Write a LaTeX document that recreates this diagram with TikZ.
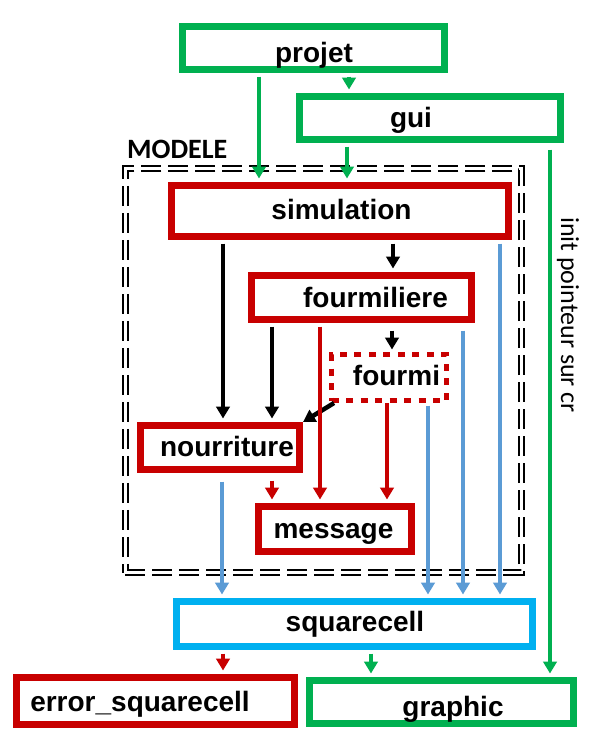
\documentclass[tikz,border=0pt]{standalone}
\usepackage{fontspec}
\newfontfamily\boxfont{Liberation Sans}
\newfontfamily\calfont{Carlito}
\usetikzlibrary{arrows.meta,calc}
\definecolor{cred}{RGB}{200,0,0}
\definecolor{cgreen}{RGB}{0,176,80}
\definecolor{cblue}{RGB}{91,155,213}
\definecolor{ccyan}{RGB}{0,176,240}
\newcommand{\bt}[3]{\raisebox{-#2pt}[0pt][0pt]{\makebox[0pt]{\kern#1pt\kern#1pt #3}}}
\begin{document}
\begin{tikzpicture}[x=1pt,y=-1pt,
  box/.style={draw, fill=white, line width=7pt, inner sep=0pt,
    font=\boxfont\bfseries\fontsize{28}{32}\selectfont},
  redbox/.style={box, draw=cred},
  greenbox/.style={box, draw=cgreen},
  cyanbox/.style={box, draw=ccyan},
  sz/.style 2 args={minimum width=#1pt, minimum height=#2pt},
  modbox/.style={draw=black, line width=2pt, double=white, double distance=3pt,
    dash pattern=on 20pt off 7pt, inner sep=0pt},
  tip/.style={-{Triangle[width=13.5pt,length=12pt]}},
  garr/.style={tip, draw=cgreen, line width=4.5pt, shorten <=3.5pt, shorten >=3.5pt},
  karr/.style={tip, draw=black, line width=4.5pt, shorten <=3.5pt, shorten >=3.5pt},
  barr/.style={tip, draw=cblue, line width=3.5pt, shorten <=3.5pt, shorten >=3.5pt},
  rarr/.style={tip, draw=cred, line width=4.5pt, shorten <=3.5pt, shorten >=3.5pt},
]
\useasboundingbox (0,0) rectangle (591,742);
\fill[white] (0,0) rectangle (591,742);

\node[modbox, sz={396.5}{404.3}] (modele) at (323.25,370.35) {};
\node[anchor=base west, inner sep=0pt, font=\calfont\bfseries\fontsize{28}{32}\selectfont] (modlabel) at (127,158) {MODELE};

\node[greenbox, sz={262}{43}] (projet) at (313.5,48) {\bt{0.5}{14}{projet}};
\node[greenbox, sz={261}{43}] (gui) at (430,118) {\bt{-19}{9}{gui}};
\node[redbox, sz={337}{51}] (simulation) at (340,211) {\bt{1.5}{8}{simulation}};
\node[redbox, sz={220}{44}] (fourmiliere) at (361.5,297.5) {\bt{14}{9.5}{fourmiliere}};
\node[redbox, line width=5pt, dash pattern=on 7pt off 7.5pt, sz={115}{46}] (fourmi) at (389,377.5) {\bt{7.5}{7.5}{fourmi}};
\node[redbox, sz={159}{44}] (nourriture) at (220,447.5) {\bt{7}{8.5}{nourriture}};
\node[redbox, sz={153}{45}] (message) at (335,529) {\bt{-1.5}{9}{message}};
\node[cyanbox, sz={356}{45}] (squarecell) at (354.5,624) {\bt{0.5}{7}{squarecell}};
\node[redbox, sz={278}{47}] (error) at (155.5,701) {\bt{-15.5}{10.5}{error\_squarecell}};
\node[greenbox, sz={264}{43}] (graphic) at (441.5,702) {\bt{11.5}{14}{graphic}};

\node[rotate=-90, anchor=base west, inner sep=0pt, font=\calfont\fontsize{26}{30}\selectfont] (initlbl) at (561,217) {init pointeur sur cr};

% green connectors
\draw[garr] ($(projet.south)+(-54.5,0)$) -- ($(projet.south |- simulation.north)+(-54.5,0)$);
\draw[garr] ($(projet.south)+(35.5,0)$) -- ($(projet.south |- gui.north)+(35.5,0)$);
\draw[garr] ($(gui.south)+(-83,0)$) -- ($(gui.south |- simulation.north)+(-83,0)$);
\draw[garr, shorten <=6.5pt] ($(gui.south)+(120,0)$) -- ($(gui.south |- graphic.north)+(120,0)$);
\draw[garr] ($(squarecell.south)+(16.5,0)$) -- ($(squarecell.south |- graphic.north)+(16.5,0)$);

% black connectors
\draw[karr] ($(simulation.south)+(-117,0)$) -- ($(simulation.south |- nourriture.north)+(-117,0)$);
\draw[karr] ($(simulation.south)+(53,0)$) -- ($(simulation.south |- fourmiliere.north)+(53,0)$);
\draw[karr] ($(fourmiliere.south)+(-89.5,0)$) -- ($(fourmiliere.south |- nourriture.north)+(-89.5,0)$);
\draw[karr, shorten <=7.5pt, shorten >=2.5pt] ($(fourmiliere.south)+(30.5,0)$) -- ($(fourmiliere.south |- fourmi.north)+(30.5,0)$);
\draw[karr, shorten <=0pt, shorten >=0pt] ($(fourmi.south west)+(5,0)$) -- (nourriture.north east);

% red connectors
\draw[rarr] ($(fourmiliere.south)+(-41.5,0)$) -- ($(fourmiliere.south |- message.north)+(-41.5,0)$);
\draw[rarr, shorten <=0pt] ($(fourmi.south)+(-2,0)$) -- ($(fourmi.south |- message.north)+(-2,0)$);
\draw[rarr, shorten <=7.5pt] ($(nourriture.south)+(52,0)$) -- ($(nourriture.south |- message.north)+(52,0)$);
\draw[rarr] ($(squarecell.south)+(-131.5,0)$) -- ($(squarecell.south |- error.north)+(-131.5,0)$);

% blue connectors
\draw[barr] ($(simulation.south)+(160,0)$) -- ($(simulation.south |- squarecell.north)+(160,0)$);
\draw[barr, shorten <=7.5pt] ($(fourmiliere.south)+(101.5,0)$) -- ($(fourmiliere.south |- squarecell.north)+(101.5,0)$);
\draw[barr, shorten <=2.5pt] ($(fourmi.south)+(39,0)$) -- ($(fourmi.south |- squarecell.north)+(39,0)$);
\draw[barr, shorten <=8.5pt] ($(nourriture.south)+(2,0)$) -- ($(nourriture.south |- squarecell.north)+(2,0)$);
\end{tikzpicture}
\end{document}
